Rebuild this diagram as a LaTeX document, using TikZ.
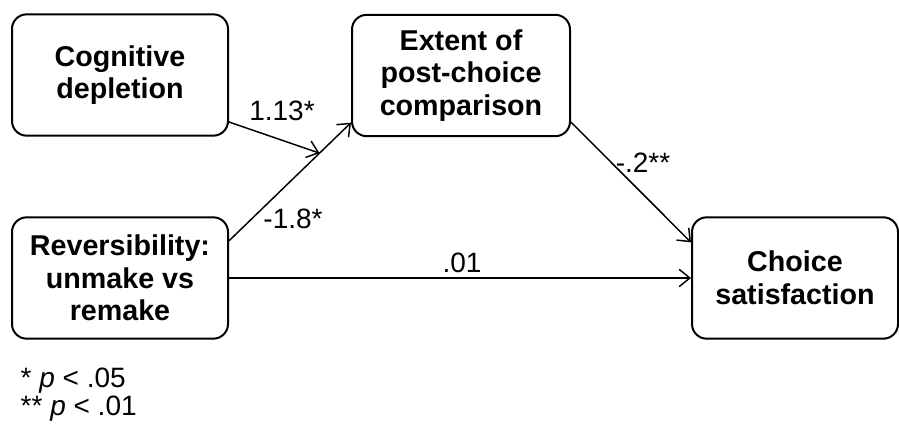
\documentclass[tikz,border=0pt]{standalone}
\usepackage{fontspec}
\setmainfont{Liberation Sans}
\usetikzlibrary{arrows.meta,positioning,calc}

\begin{document}
\begin{tikzpicture}[
    x=0.75pt, y=-0.75pt,
    var/.style={rectangle, rounded corners=11pt, draw=black, line width=1.5pt, fill=white, minimum width=162pt, minimum height=91pt, align=center, font=\bfseries\fontsize{21.5}{24.5}\selectfont},
    path/.style={draw, -{Straight Barb[length=8pt, width=13pt, line width=1.1pt]}, line width=1.1pt},
    coef/.style={font=\fontsize{21}{24}\selectfont},
    note/.style={anchor=base west, font=\fontsize{21}{24}\selectfont}
]
\useasboundingbox (0,0) rectangle (899,431);

\node [var] (cog) at (120,75) {Cognitive\\depletion};
\node [var, minimum width=163.5pt] (ext) at (461,75.5) {Extent of\\post-choice\\comparison};
\node [var] (rev) at (120,278) {Reversibility:\\unmake vs\\remake};
\node [var, minimum width=154.5pt] (sat) at (795,278) {Choice\\satisfaction};

\coordinate (revout) at ($(rev.north east)+(0,24.5)$);
\coordinate (extin) at ($(ext.south west)+(0,-14.5)$);
\coordinate (join) at ($(revout)!0.742!(extin)$);

\draw [path] (revout) -- (extin);
\draw [path] ($(cog.south east)+(-1,-15)$) -- (join);
\draw [path] ($(ext.south east)+(0,-15)$) -- ($(sat.north west)+(0,26)$);
\draw [path] (rev.east) -- (sat.west);

\node [coef] (c1) at (282,111) {1.13*};
\node [coef] (c2) at (293,219) {-1.8*};
\node [coef] (c3) at (643,163) {-.2**};
\node [coef] (c4) at (462,263) {.01};

\node [note] (n1) at (16,387) {* \textit{p} < .05};
\node [note] (n2) at (16,415) {** \textit{p} < .01};

\end{tikzpicture}
\end{document}
